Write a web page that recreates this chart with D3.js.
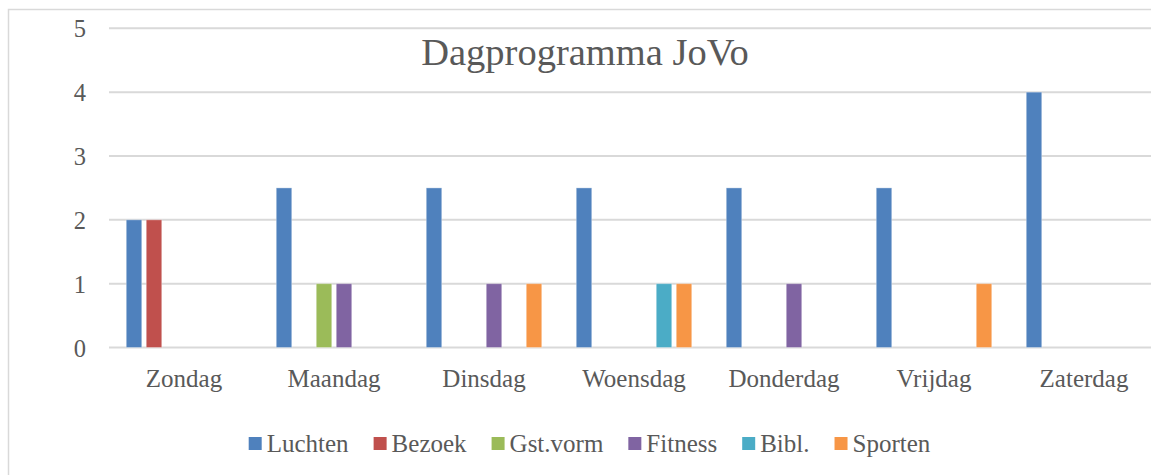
<!DOCTYPE html>
<html>
<head>
<meta charset="utf-8">
<script src="https://cdn.jsdelivr.net/npm/d3@7"></script>
<style>
    body { margin: 0; background: #fff; }
    text { font-family: "Liberation Serif", "DejaVu Serif", serif; fill: #595959; }
</style>
</head>
<body>
<div id="vis"></div>
<script>
// data
var days = ["Zondag", "Maandag", "Dinsdag", "Woensdag", "Donderdag", "Vrijdag", "Zaterdag"];
var seriesNames = ["Luchten", "Bezoek", "Gst.vorm", "Fitness", "Bibl.", "Sporten"];
var luchten = [2, 2.5, 2.5, 2.5, 2.5, 2.5, 4];
var bezoek = [2, 0, 0, 0, 0, 0, 0];
var gstVorm = [0, 1, 0, 0, 0, 0, 0];
var fitness = [0, 1, 1, 0, 1, 0, 0];
var bibl = [0, 0, 0, 1, 0, 0, 0];
var sporten = [0, 0, 1, 1, 0, 1, 0];
var yTicks = [0, 1, 2, 3, 4, 5];

var colors = ["#4F81BD", "#C0504D", "#9BBB59", "#8064A2", "#4BACC6", "#F79646"];
var allValues = [luchten, bezoek, gstVorm, fitness, bibl, sporten];

var width = 1151, height = 475;

var svg = d3.select("#vis").append("svg")
    .attr("width", width)
    .attr("height", height);

// chart border (cropped on the right and bottom like the original)
svg.append("rect")
    .attr("x", 8.5).attr("y", 9.5)
    .attr("width", 1160).attr("height", 480)
    .attr("fill", "none")
    .attr("stroke", "#d9d9d9")
    .attr("stroke-width", 1.5);

var x0 = d3.scaleBand().domain(days).range([109, 1159]).paddingInner(0);
var y = d3.scaleLinear().domain([0, 5]).range([347.5, 28.3]);

// gridlines
svg.append("g").selectAll("line")
    .data(yTicks)
    .join("line")
    .attr("x1", 109).attr("x2", width)
    .attr("y1", function (d) { return y(d); })
    .attr("y2", function (d) { return y(d); })
    .attr("stroke", "#d9d9d9")
    .attr("stroke-width", 2);

// y tick labels
svg.append("g").selectAll("text")
    .data(yTicks)
    .join("text")
    .attr("x", 86)
    .attr("y", function (d) { return y(d) + 9; })
    .attr("text-anchor", "end")
    .attr("font-size", "24.5px")
    .text(function (d) { return d; });

// bars
var groups = svg.append("g").selectAll("g")
    .data(seriesNames)
    .join("g")
    .attr("fill", function (d, i) { return colors[i]; });

groups.each(function (name, si) {
    var rows = days.map(function (day, di) { return { day: day, value: allValues[si][di] }; })
        .filter(function (r) { return r.value > 0; });
    d3.select(this).selectAll("rect")
        .data(rows)
        .join("rect")
        .attr("x", function (r) {
            var c = x0(r.day) + x0.bandwidth() / 2;
            var x1 = d3.scaleBand().domain(seriesNames).range([c - 57.75, c + 57.75]).paddingInner(0.225);
            return x1(name);
        })
        .attr("width", 15.5)
        .attr("y", function (r) { return y(r.value); })
        .attr("height", function (r) { return y(0) - y(r.value); })
        .attr("stroke", "#fff")
        .attr("stroke-opacity", 0.35)
        .attr("stroke-width", 1);
});

// category labels
svg.append("g").selectAll("text")
    .data(days)
    .join("text")
    .attr("x", function (d) { return x0(d) + x0.bandwidth() / 2; })
    .attr("y", 386.5)
    .attr("text-anchor", "middle")
    .attr("font-size", "25px")
    .text(function (d) { return d; });

// title
svg.append("text")
    .attr("x", 585)
    .attr("y", 65)
    .attr("text-anchor", "middle")
    .attr("font-size", "38.5px")
    .text("Dagprogramma JoVo");

// legend
var legend = svg.append("g");
var lx = 0;
seriesNames.forEach(function (name, i) {
    var item = legend.append("g").attr("transform", "translate(" + lx + ",0)");
    item.append("rect")
        .attr("x", 0).attr("y", 437)
        .attr("width", 13).attr("height", 13)
        .attr("fill", colors[i]);
    var t = item.append("text")
        .attr("x", 18).attr("y", 452)
        .attr("font-size", "25px")
        .text(name);
    lx += 18 + t.node().getComputedTextLength() + 25;
});
var legendW = lx - 25;
legend.attr("transform", "translate(" + (589.5 - legendW / 2) + ",0)");
</script>
</body>
</html>
